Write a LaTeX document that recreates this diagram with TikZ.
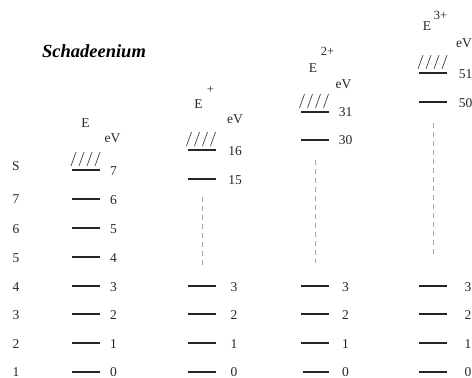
\documentclass[tikz,border=0pt]{standalone}
\usepackage{fontspec}
\setmainfont{Liberation Serif}
\begin{document}
\begin{tikzpicture}[x=1pt,y=-1pt,
  lvl/.style={line width=1.3pt, draw=black!85},
  hat/.style={line width=0.7pt, draw=black!75},
  lab/.style={font=\fontsize{13.5}{15}\selectfont, text=black!85, inner sep=0pt, anchor=base},
  suplab/.style={font=\fontsize{12.5}{14}\selectfont, text=black!85, inner sep=0pt},
  gapline/.style={draw=gray!70, line width=0.6pt, dash pattern=on 5pt off 4pt}]
\useasboundingbox (0,0) rectangle (472,378);

\node[font=\fontsize{18.5}{20}\selectfont\bfseries\itshape, inner sep=0pt, anchor=base] (title) at (94,57) {Schadeenium};

% left column of state numbers
\foreach \t/\y [count=\i] in {S/170,7/203,6/233,5/262,4/291,3/319,2/348,1/376}
  \node[lab] (s\i) at (16,\y) {\t};

% hatch macro: #1 = left x, #2 = line y
\newcommand{\hatchlevel}[2]{%
  \draw[lvl] (#1,#2) -- (#1+28,#2);
  \foreach \k in {0,1,2,3}
    \draw[hat] (#1-1+8*\k,#2-4) -- (#1+4+8*\k,#2-18);
}

% ---------- column 1 : E ----------
\node[lab] (e1) at (85.5,127) {E};
\node[lab] (ev1) at (112.5,142) {eV};
\hatchlevel{72}{170}
\node[lab] (c1l7) at (113.5,175) {7};
\foreach \v/\y in {6/199,5/228,4/257,3/286,2/314,1/343}{
  \draw[lvl] (72,\y) -- (100,\y);
  \node[lab] (c1l\v) at (113.5,\y+5) {\v};
}
\draw[lvl] (72,372) -- (100,372);
\node[lab] (c1l0) at (113.5,376) {0};

% ---------- column 2 : E+ ----------
\node[lab] (e2) at (198.5,108) {E};
\node[suplab] (e2s) at (210.5,89.5) {+};
\node[lab] (ev2) at (235,123) {eV};
\hatchlevel{187.5}{150}
\node[lab] (c2l16) at (235,155) {16};
\draw[lvl] (187.5,179) -- (215.5,179);
\node[lab] (c2l15) at (235,184) {15};
\coordinate (c2top) at (202,197);
\coordinate (c2bot) at (202,265);
\draw[gapline] (c2top) -- (c2bot);
\foreach \v/\y in {3/286,2/314,1/343}{
  \draw[lvl] (187.5,\y) -- (215.5,\y);
  \node[lab] (c2l\v) at (234,\y+5) {\v};
}
\draw[lvl] (187.5,372) -- (215.5,372);
\node[lab] (c2l0) at (234,376) {0};

% ---------- column 3 : E2+ ----------
\node[lab] (e3) at (313,72) {E};
\node[suplab] (e3s) at (327.5,51.5) {2+};
\node[lab] (ev3) at (343.5,88) {eV};
\hatchlevel{300.5}{112}
\node[lab] (c3l31) at (345.5,116.5) {31};
\draw[lvl] (300.5,140) -- (328.5,140);
\node[lab] (c3l30) at (345.5,144.5) {30};
\coordinate (c3top) at (315.5,160);
\coordinate (c3bot) at (315.5,263);
\draw[gapline] (c3top) -- (c3bot);
\foreach \v/\y in {3/286,2/314,1/343}{
  \draw[lvl] (300.5,\y) -- (328.5,\y);
  \node[lab] (c3l\v) at (345.5,\y+5) {\v};
}
\draw[lvl] (302.5,372) -- (329,372);
\node[lab] (c3l0) at (345.5,376) {0};

% ---------- column 4 : E3+ ----------
\node[lab] (e4) at (427,30) {E};
\node[suplab] (e4s) at (440.5,15) {3+};
\node[lab] (ev4) at (464,47) {eV};
\hatchlevel{419}{73}
\node[lab] (c4l51) at (465.5,78) {51};
\draw[lvl] (419,102) -- (447,102);
\node[lab] (c4l50) at (465.5,107) {50};
\coordinate (c4top) at (433,123);
\coordinate (c4bot) at (433,255);
\draw[gapline] (c4top) -- (c4bot);
\foreach \v/\y in {3/286,2/314,1/343}{
  \draw[lvl] (419,\y) -- (447,\y);
  \node[lab] (c4l\v) at (468,\y+5) {\v};
}
\draw[lvl] (419,372) -- (447,372);
\node[lab] (c4l0) at (468,376) {0};
\end{tikzpicture}
\end{document}
